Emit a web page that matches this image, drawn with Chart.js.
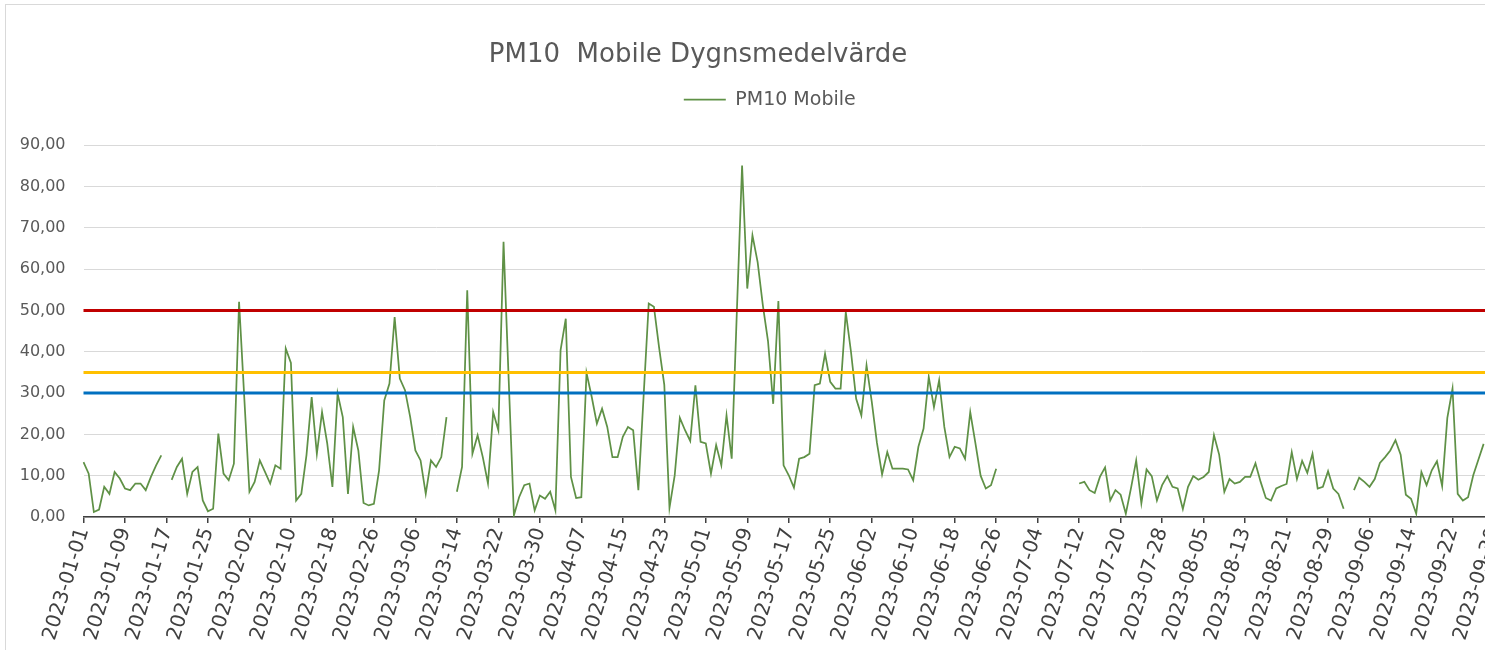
<!DOCTYPE html>
<html lang="sv">

<head>
    <meta charset="UTF-8">
    <title>PM10 Mobile Dygnsmedelvärde</title>
    <style>
        html, body { margin: 0; padding: 0; background: #fff; overflow: hidden; }
        #frame { position: absolute; left: 5px; top: 4px; width: 1490px; height: 660px;
                 border-left: 1px solid #d9d9d9; border-top: 1px solid #d9d9d9; }
        #wrap { position: absolute; left: -98px; top: 0; width: 1592px; height: 650px; }
    </style>
</head>

<body>
    <div id="frame"></div>
    <div id="wrap">
        <canvas id="myChart" width="1592" height="650"></canvas>
    </div>

    <script src="https://cdn.jsdelivr.net/npm/chart.js"></script>

    <script>
        var TITLE = "PM10  Mobile Dygnsmedelvärde";
        var SERIES_NAME = "PM10 Mobile";

        // one category per day, 2023-01-01 .. 2023-09-30
        var DAYS = 273;
        var labels = [];
        for (var i = 0; i < DAYS; i++) {
            labels.push(new Date(Date.UTC(2023, 0, 1 + i)).toISOString().slice(0, 10));
        }

        // daily means, null = no data
        var pm10 = [
            13.3, 10.5, 1.2, 1.8, 7.3, 5.6, 10.9, 9.3, 6.9, 6.5,          // jan 01
            8.1, 8.1, 6.5, 9.7, 12.5, 14.9, null, 9.0, 12.1, 14.1,
            5.6, 10.9, 12.1, 4.0, 1.4, 2.0, 20.2, 10.5, 8.9, 12.9,
            52.1, 29.0, 6.1, 8.5, 13.7, 10.9, 8.1, 12.5, 11.7, 40.8,      // jan 31
            37.3, 4.0, 5.6, 15.0, 29.0, 15.3, 25.4, 17.8, 7.3, 29.9,
            24.2, 5.6, 21.8, 16.1, 3.4, 2.8, 3.2, 11.3, 28.2, 32.3,
            48.4, 33.5, 30.7, 24.2, 16.1, 13.7, 5.6, 13.7, 12.1, 14.5,    // mar 02
            24.2, null, 6.1, 12.1, 54.9, 15.3, 19.8, 14.5, 8.1, 25.4,
            21.0, 66.6, 33.0, 0.4, 4.8, 7.7, 8.1, 1.6, 5.2, 4.4,
            6.1, 1.6, 40.4, 48.0, 9.7, 4.6, 4.8, 34.9, 29.1, 22.6,        // apr 01
            26.2, 21.8, 14.5, 14.5, 19.4, 21.8, 21.0, 6.5, 29.0, 51.7,
            50.9, 41.0, 32.0, 2.2, 10.0, 24.0, 21.0, 18.4, 31.9, 18.2,
            17.8, 10.5, 17.4, 12.5, 24.6, 14.1, 50.0, 85.1, 55.3, 68.2,   // may 01
            61.7, 51.3, 42.6, 27.4, 52.3, 12.5, 10.1, 7.1, 14.1, 14.5,
            15.3, 31.9, 32.3, 39.5, 32.7, 31.1, 31.1, 49.6, 40.0, 28.6,
            24.6, 36.7, 28.0, 18.0, 10.3, 15.7, 11.7, 11.7, 11.7, 11.5,   // may 31
            8.9, 17.0, 21.4, 33.9, 26.6, 33.1, 21.8, 14.5, 17.0, 16.6,
            14.1, 25.4, 17.8, 10.0, 6.9, 7.7, 11.7, null, null, null,
            null, null, null, null, null, null, null, null, null, null,   // jun 30
            null, null, 8.1, 8.5, 6.5, 5.8, 9.7, 12.0, 4.0, 6.5,
            5.4, 0.8, 7.0, 13.7, 3.3, 11.5, 9.9, 4.0, 7.7, 9.9,
            7.3, 6.9, 1.9, 7.3, 9.9, 9.0, 9.7, 10.9, 19.8, 15.1,          // jul 30
            6.1, 9.2, 8.1, 8.5, 9.7, 9.7, 13.0, 8.5, 4.6, 4.0,
            6.9, 7.5, 8.0, 15.7, 9.2, 13.6, 10.7, 15.3, 6.9, 7.3,
            11.1, 6.9, 5.6, 2.0, null, 6.5, 9.5, 8.5, 7.3, 9.2,           // aug 29
            13.1, 14.5, 16.1, 18.6, 15.1, 5.4, 4.4, 0.8, 10.9, 7.7,
            11.3, 13.5, 7.5, 24.0, 31.1, 5.6, 4.0, 4.8, 10.1, 13.9,
            17.7, null, null
        ];

        // limit values drawn as flat lines
        var limit50 = labels.map(function () { return 50; });
        var limit35 = labels.map(function () { return 35; });
        var limit30 = labels.map(function () { return 30; });

        Chart.defaults.font.family = "'DejaVu Sans', sans-serif";

        // extra room under the legend and nudge it a bit left
        var legendSpacer = {
            id: "legendSpacer",
            beforeInit(chart) {
                var fit = chart.legend.fit;
                chart.legend.fit = function () {
                    fit.call(this);
                    this.height += 26;
                };
            },
            afterLayout(chart) {
                chart.legend.left -= 19;
                chart.legend.right -= 19;
            }
        };

        var chart = new Chart("myChart", {
            type: "line",
            data: {
                labels: labels,
                datasets: [
                    { label: "50", data: limit50, borderColor: "#C00000", borderWidth: 3, pointRadius: 0, order: 0 },
                    { label: "35", data: limit35, borderColor: "#FFC000", borderWidth: 3, pointRadius: 0, order: 0 },
                    { label: "30", data: limit30, borderColor: "#0070C0", borderWidth: 3, pointRadius: 0, order: 0 },
                    {
                        label: SERIES_NAME,
                        data: pm10,
                        borderColor: "#5F9146",
                        borderWidth: 1.75,
                        pointRadius: 0,
                        tension: 0,
                        spanGaps: false,
                        order: 1
                    }
                ]
            },
            options: {
                responsive: false,
                animation: false,
                layout: { padding: 0 },
                plugins: {
                    title: {
                        display: true,
                        text: TITLE,
                        color: "#595959",
                        font: { size: 26, weight: "normal" },
                        padding: { top: 40, bottom: 9 }
                    },
                    legend: {
                        display: true,
                        fullSize: false,
                        labels: {
                            usePointStyle: true,
                            pointStyle: "line",
                            pointStyleWidth: 42,
                            color: "#595959",
                            font: { size: 19 },
                            padding: 10,
                            filter: function (item) { return item.text === SERIES_NAME; }
                        }
                    },
                    tooltip: { enabled: false }
                },
                scales: {
                    x: {
                        offset: false,
                        border: { display: true, color: "#404040", width: 1.5 },
                        grid: {
                            drawOnChartArea: false,
                            drawTicks: true,
                            tickLength: 6,
                            lineWidth: 1.5,
                            color: function (ctx) { return ctx.index % 8 === 0 ? "#404040" : "rgba(0,0,0,0)"; }
                        },
                        ticks: {
                            autoSkip: false,
                            minRotation: 73,
                            maxRotation: 73,
                            padding: 2,
                            color: "#404040",
                            font: { size: 20 },
                            callback: function (v, i) { return i % 8 === 0 ? labels[i] : ""; }
                        },
                        afterFit: function (s) {
                            s.height = 133;
                            s.paddingLeft = 0;
                            s.paddingRight = 0;
                        }
                    },
                    y: {
                        min: 0,
                        max: 90,
                        border: { display: false },
                        grid: { color: "#d9d9d9", lineWidth: 1, drawTicks: false },
                        ticks: {
                            stepSize: 10,
                            padding: 18,
                            color: "#595959",
                            font: { size: 16 },
                            callback: function (v) { return v.toFixed(2).replace(".", ","); }
                        },
                        afterFit: function (s) { s.width = 181.5; }
                    }
                }
            },
            plugins: [legendSpacer]
        });
    </script>
</body>

</html>
